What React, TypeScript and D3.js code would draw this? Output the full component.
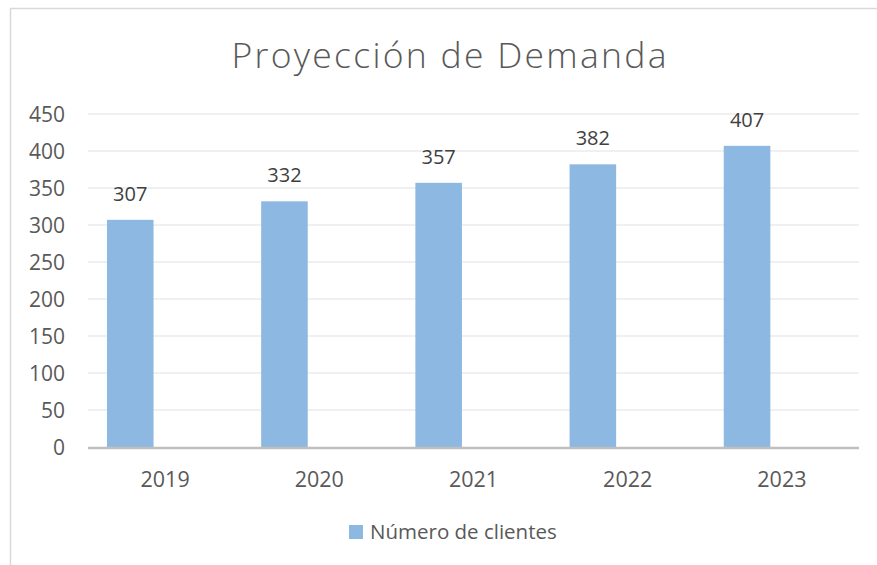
import React from "react";
import * as d3 from "d3";

const years = ["2019", "2020", "2021", "2022", "2023"];
const clientes = [307, 332, 357, 382, 407];
const yTicks = [0, 50, 100, 150, 200, 250, 300, 350, 400, 450];
const title = "Proyección de Demanda";
const seriesName = "Número de clientes";

const W = 877;
const H = 565;
const FONT = "'Open Sans', 'DejaVu Sans', sans-serif";

export default function App() {
  const x = d3.scaleBand<string>().domain(years).range([88, 859]).paddingInner(0).paddingOuter(0);
  const y = d3.scaleLinear().domain([0, 450]).range([447, 114]);
  const bw = x.bandwidth();
  const barOff = bw * 0.123;
  const barW = bw * 0.302;

  return (
    <svg
      width={W}
      height={H}
      style={{ position: "absolute", left: 0, top: 0, background: "#fff" }}
      fontFamily={FONT}
    >
      <rect x={0} y={0} width={W} height={H} fill="#fff" />
      <rect x={10.5} y={8.5} width={900} height={600} fill="#fff" stroke="#d9d9d9" strokeWidth={1.5} />
      <text
        x={449}
        y={68}
        textAnchor="middle"
        fontSize={35.5}
        fontWeight={300}
        fill="#595959"
        textLength={435}
        lengthAdjust="spacing"
      >
        {title}
      </text>
      {yTicks.map((t) => (
        <g key={t}>
          {t !== 0 && (
            <line x1={88} x2={859} y1={y(t)} y2={y(t)} stroke="#ebebeb" strokeWidth={1.5} />
          )}
          <text x={65} y={y(t)} dy="0.36em" textAnchor="end" fontSize={21} fill="#595959">
            {t}
          </text>
        </g>
      ))}
      {years.map((yr, i) => (
        <g key={yr}>
          <rect
            x={(x(yr) as number) + barOff}
            y={y(clientes[i])}
            width={barW}
            height={y(0) - y(clientes[i])}
            fill="#8db8e1"
          />
          <text
            x={(x(yr) as number) + barOff + barW / 2}
            y={y(clientes[i]) - 19}
            textAnchor="middle"
            fontSize={20}
            fill="#404040"
          >
            {clientes[i]}
          </text>
          <text
            x={(x(yr) as number) + bw / 2}
            y={487}
            textAnchor="middle"
            fontSize={21.5}
            fill="#595959"
          >
            {yr}
          </text>
        </g>
      ))}
      <line x1={88} x2={859} y1={y(0) + 1} y2={y(0) + 1} stroke="#bfbfbf" strokeWidth={2.5} />
      <rect x={349} y={525} width={14} height={14} fill="#8db8e1" />
      <text x={370} y={538.5} fontSize={20.5} fill="#595959">
        {seriesName}
      </text>
    </svg>
  );
}
